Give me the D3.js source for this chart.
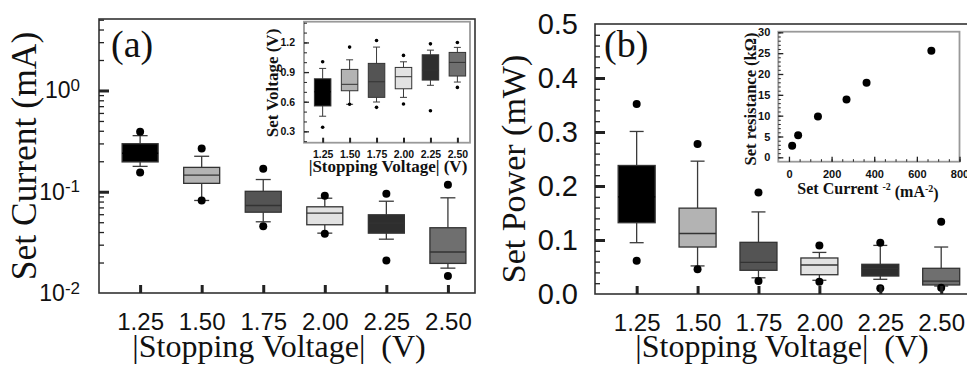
<!DOCTYPE html>
<html>
<head>
<meta charset="utf-8">
<script src="https://cdn.jsdelivr.net/npm/d3@7"></script>
<style>
  body { margin: 0; background: #fff; }
  svg { display: block; }
</style>
</head>
<body>
<div id="chart"></div>
<script>
// --- data ---
const voltages = ["1.25", "1.50", "1.75", "2.00", "2.25", "2.50"];
const voltValues = [1.25, 1.5, 1.75, 2.0, 2.25, 2.5];

// each row: [low dot, whisker low, q1, median, q3, whisker high, high dot]
const setCurrent = [
  [0.155, 0.178, 0.197, 0.24, 0.298, 0.358, 0.392],
  [0.082, 0.082, 0.121, 0.146, 0.174, 0.224, 0.267],
  [0.0457, 0.0505, 0.0628, 0.0731, 0.101, 0.132, 0.169],
  [0.0385, 0.039, 0.0472, 0.0614, 0.071, 0.0863, 0.0912],
  [0.0209, 0.034, 0.039, 0.049, 0.0592, 0.0806, 0.0953],
  [0.0147, 0.0176, 0.0196, 0.0254, 0.0441, 0.0871, 0.117]
];
const setVoltage = [
  [0.341, 0.453, 0.557, 0.70, 0.832, 0.937, 1.004],
  [0.574, 0.574, 0.711, 0.776, 0.927, 1.024, 1.153],
  [0.543, 0.597, 0.644, 0.802, 0.988, 1.153, 1.22],
  [0.577, 0.644, 0.731, 0.853, 0.947, 1.004, 1.069],
  [0.509, 0.766, 0.819, 0.920, 1.075, 1.122, 1.186],
  [0.745, 0.799, 0.860, 0.998, 1.099, 1.15, 1.2]
];
const setPower = [
  [0.0617, 0.095, 0.132, 0.18, 0.238, 0.301, 0.352],
  [0.0457, 0.052, 0.087, 0.112, 0.159, 0.246, 0.278],
  [0.024, 0.030, 0.0439, 0.0587, 0.0957, 0.152, 0.188],
  [0.0228, 0.0254, 0.0357, 0.0537, 0.0667, 0.077, 0.090],
  [0.0106, 0.0272, 0.0333, 0.0476, 0.055, 0.090, 0.095],
  [0.0117, 0.0148, 0.0167, 0.024, 0.0476, 0.087, 0.134]
];
const invCurrentSq = [15, 43, 136, 270, 364, 668];
const setResistance = [2.8, 5.3, 9.8, 13.9, 17.9, 25.6];

const boxFills = ["#000000", "#b3b3b3", "#545454", "#e2e2e2", "#2e2e2e", "#6f6f6f"];

const serif = '"Liberation Serif", "Times New Roman", serif';
const sans = '"Liberation Sans", Arial, sans-serif';

const svg = d3.select("#chart").append("svg")
  .attr("width", 967)
  .attr("height", 374);

// --- scales ---
const xA = d3.scaleLinear().domain([1.083, 2.61]).range([99, 475]);
const yA = d3.scaleLog().domain([0.01, 5.08]).range([293, 19]);
const xAi = d3.scaleLinear().domain([1.077, 2.617]).range([304, 470]);
const yAi = d3.scaleLinear().domain([0.185, 1.41]).range([142.7, 21.7]);
const xB = d3.scaleLinear().domain([1.079, 2.61]).range([595, 968]);
const yB = d3.scaleLinear().domain([0, 0.5]).range([294, 24]);
const xBi = d3.scaleLinear().domain([-50, 800]).range([778.3, 959.5]);
const yBi = d3.scaleLinear().domain([-1.05, 30.15]).range([161.7, 31.7]);

function frame(x, y, color, w) {
  const [x0, x1] = x.range(), [y0, y1] = y.range();
  svg.append("rect")
    .attr("x", x0).attr("y", y1)
    .attr("width", x1 - x0).attr("height", y0 - y1)
    .attr("fill", "none")
    .attr("stroke", color)
    .attr("stroke-width", w);
}

// inward tick marks drawn with a d3 axis
function ticks(axisFn, scale, values, size, width, pos) {
  const horiz = axisFn === d3.axisBottom;
  svg.append("g")
    .attr("transform", horiz ? `translate(0,${pos})` : `translate(${pos},0)`)
    .call(axisFn(scale).tickValues(values).tickSize(-size).tickFormat(""))
    .call(a => a.select(".domain").remove())
    .call(a => a.selectAll("line").attr("stroke", "#222").attr("stroke-width", width));
}

function labels(axisFn, scale, values, fmt, pos, pad, font, size, weight) {
  const horiz = axisFn === d3.axisBottom;
  return svg.append("g")
    .attr("transform", horiz ? `translate(0,${pos})` : `translate(${pos},0)`)
    .call(axisFn(scale).tickValues(values).tickSize(0).tickPadding(pad).tickFormat(fmt))
    .call(a => a.select(".domain").remove())
    .call(a => a.selectAll("text")
      .attr("fill", "#111")
      .style("font-family", font)
      .style("font-size", size + "px")
      .style("font-weight", weight || "normal"));
}

function boxes(x, y, stats, o) {
  const rows = stats.map((s, i) => ({ v: voltValues[i], s: s, fill: boxFills[i] }));
  const g = svg.append("g").selectAll("g").data(rows).join("g");
  const line = "#3a3a3a";
  // whiskers
  g.append("line")
    .attr("x1", d => x(d.v)).attr("x2", d => x(d.v))
    .attr("y1", d => y(d.s[1])).attr("y2", d => y(d.s[2]))
    .attr("stroke", line).attr("stroke-width", o.lw);
  g.append("line")
    .attr("x1", d => x(d.v)).attr("x2", d => x(d.v))
    .attr("y1", d => y(d.s[4])).attr("y2", d => y(d.s[5]))
    .attr("stroke", line).attr("stroke-width", o.lw);
  [1, 5].forEach(k => {
    g.append("line")
      .attr("x1", d => x(d.v) - o.cap / 2).attr("x2", d => x(d.v) + o.cap / 2)
      .attr("y1", d => y(d.s[k])).attr("y2", d => y(d.s[k]))
      .attr("stroke", line).attr("stroke-width", o.lw);
  });
  g.append("rect")
    .attr("x", d => x(d.v) - o.w / 2)
    .attr("y", d => y(d.s[4]))
    .attr("width", o.w)
    .attr("height", d => y(d.s[2]) - y(d.s[4]))
    .attr("fill", d => d.fill)
    .attr("stroke", "#333")
    .attr("stroke-width", o.lw);
  g.append("line")
    .attr("x1", d => x(d.v) - o.w / 2).attr("x2", d => x(d.v) + o.w / 2)
    .attr("y1", d => y(d.s[3])).attr("y2", d => y(d.s[3]))
    .attr("stroke", d => d.fill === "#000000" ? "#000" : "#333")
    .attr("stroke-width", o.lw);
  [0, 6].forEach(k => {
    g.append("circle")
      .attr("cx", d => x(d.v))
      .attr("cy", d => y(d.s[k]))
      .attr("r", o.r)
      .attr("fill", "#000");
  });
}

function rotTitle(text, x, y, size, weight) {
  return svg.append("text")
    .attr("transform", `translate(${x},${y}) rotate(-90)`)
    .attr("text-anchor", "middle")
    .style("font-family", serif)
    .style("font-size", size + "px")
    .style("font-weight", weight || "normal")
    .attr("fill", "#111")
    .text(text);
}

function title(text, x, y, size, weight, anchor) {
  return svg.append("text")
    .attr("x", x).attr("y", y)
    .attr("text-anchor", anchor || "middle")
    .style("font-family", serif)
    .style("font-size", size + "px")
    .style("font-weight", weight || "normal")
    .style("white-space", "pre")
    .attr("fill", "#111")
    .text(text);
}

// ================= panel (a) =================
frame(xA, yA, "#333", 1.6);
boxes(xA, yA, setCurrent, { w: 36, cap: 15, r: 4, lw: 1.3 });

const minorLog = [];
[0.01, 0.1, 1].forEach(d => { for (let k = 2; k <= 9; k++) if (k * d <= 5.08) minorLog.push(k * d); });
ticks(d3.axisLeft, yA, minorLog, 5, 1.3, 99);
ticks(d3.axisLeft, yA, [0.1, 1], 10, 3, 99);
ticks(d3.axisBottom, xA, voltValues, 8, 3, 293);

labels(d3.axisBottom, xA, voltValues, (d, i) => voltages[i], 293, 20, sans, 24);
labels(d3.axisLeft, yA, [0.01, 0.1, 1], "", 99, 19, sans, 23)
  .selectAll("text")
  .each(function (d) {
    const t = d3.select(this);
    t.text(null);
    t.append("tspan").text("10");
    t.append("tspan").attr("dy", "-0.42em").style("font-size", "17px").text(Math.round(Math.log10(d)));
  });

rotTitle("Set Current (mA)", 36, 156, 35.5);
title("|Stopping Voltage|  (V)", 279, 357, 32);
title("(a)", 111, 57, 38, "normal", "start");

// inset (a)
frame(xAi, yAi, "#999", 1.8);
boxes(xAi, yAi, setVoltage, { w: 16.5, cap: 7, r: 1.8, lw: 1 });
ticks(d3.axisLeft, yAi, d3.range(0.2, 1.41, 0.1), 3, 1, 304);
ticks(d3.axisLeft, yAi, [0.3, 0.6, 0.9, 1.2], 5, 1.3, 304);
ticks(d3.axisBottom, xAi, voltValues, 5, 2, 142.7);
labels(d3.axisBottom, xAi, voltValues, (d, i) => voltages[i], 142.7, 8, sans, 10.5, "bold");
labels(d3.axisLeft, yAi, [0.3, 0.6, 0.9, 1.2], d3.format(".1f"), 304, 9, sans, 10.5, "bold");
rotTitle("Set Voltage (V)", 278, 83, 17, "bold");
title("|Stopping Voltage| (V)", 388, 172, 17, "bold");

// ================= panel (b) =================
frame(xB, yB, "#333", 1.6);
boxes(xB, yB, setPower, { w: 37, cap: 14, r: 4, lw: 1.3 });
ticks(d3.axisLeft, yB, d3.range(0.02, 0.5, 0.02), 5, 1.3, 595);
ticks(d3.axisLeft, yB, [0.1, 0.2, 0.3, 0.4], 10, 3, 595);
ticks(d3.axisBottom, xB, voltValues, 8, 3, 294);
labels(d3.axisBottom, xB, voltValues, (d, i) => voltages[i], 294, 20, sans, 24);
labels(d3.axisLeft, yB, [0, 0.1, 0.2, 0.3, 0.4, 0.5], d3.format(".1f"), 595, 17, sans, 29);

rotTitle("Set Power (mW)", 525, 169, 34);
title("|Stopping Voltage|  (V)", 782, 357, 32);
title("(b)", 604, 57, 38, "normal", "start");

// inset (b)
frame(xBi, yBi, "#999", 1.8);
ticks(d3.axisLeft, yBi, d3.range(0, 31, 1), 2.5, 1, 778.3);
ticks(d3.axisLeft, yBi, d3.range(0, 31, 5), 5, 1.3, 778.3);
ticks(d3.axisBottom, xBi, d3.range(0, 801, 50), 2.5, 1, 161.7);
ticks(d3.axisBottom, xBi, d3.range(0, 801, 200), 5, 1.3, 161.7);
labels(d3.axisBottom, xBi, d3.range(0, 801, 200), d3.format("d"), 161.7, 9, sans, 11, "bold");
labels(d3.axisLeft, yBi, d3.range(0, 31, 5), d3.format("d"), 778.3, 8, sans, 11, "bold");

svg.append("g").selectAll("circle")
  .data(invCurrentSq.map((v, i) => [v, setResistance[i]]))
  .join("circle")
  .attr("cx", d => xBi(d[0]))
  .attr("cy", d => yBi(d[1]))
  .attr("r", 4)
  .attr("fill", "#000");

rotTitle("Set resistance (k\u03A9)", 756, 99, 16.5, "bold");
const tb = title("", 868, 194, 16, "bold");
tb.append("tspan").text("Set Current ");
tb.append("tspan").attr("dy", "-0.45em").style("font-size", "10px").text("-2");
tb.append("tspan").attr("dy", "0.45em").text(" (mA");
tb.append("tspan").attr("dy", "-0.45em").style("font-size", "10px").text("-2");
tb.append("tspan").attr("dy", "0.45em").text(")");
</script>
</body>
</html>
